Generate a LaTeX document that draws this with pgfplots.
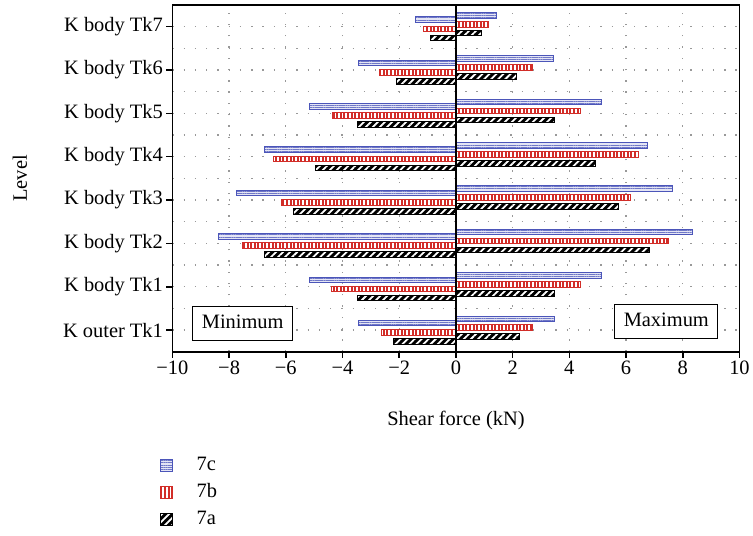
\documentclass[border=0pt]{standalone}
\usepackage{fontspec}
\setmainfont{Liberation Serif}
\usepackage{pgfplots}
\pgfplotsset{compat=1.18}
\usetikzlibrary{patterns.meta}
\definecolor{c7c}{RGB}{75,85,185}
\definecolor{c7b}{RGB}{210,45,40}
\begin{document}
\begin{tikzpicture}[font=\fontsize{20.5}{24}\selectfont]
\begin{axis}[
  scale only axis, width=569pt, height=348pt,
  xbar, bar width=0.13,
  legend image code/.code={\draw[#1] (0pt,-6pt) rectangle (12pt,6pt);},
  xmin=-10, xmax=10, ymin=-0.5, ymax=7.5,
  xtick={-10,-8,...,10},
  xticklabels={−10,−8,−6,−4,−2,0,2,4,6,8,10},
  ytick={0,1,2,3,4,5,6,7},
  yticklabels={K outer Tk1,K body Tk1,K body Tk2,K body Tk3,K body Tk4,K body Tk5,K body Tk6,K body Tk7},
  minor ytick={-0.5,0.5,1.5,2.5,3.5,4.5,5.5,6.5,7.5},
  tick align=outside, xtick pos=bottom, ytick pos=left,
  major tick length=6pt, minor tick length=0pt,
  every tick/.style={black, line width=1.5pt},
  axis line style={line width=1.5pt},
  xmajorgrids, ymajorgrids, yminorgrids,
  grid style={gray!80, line width=1.3pt, dash pattern=on 1.3pt off 10pt},
  xlabel={Shear force (kN)},
  ylabel={Level},
  xlabel style={at={(axis description cs:0.5,-0.198)}, anchor=center},
  ylabel style={at={(axis description cs:-0.269,0.5)}, anchor=center},
  legend style={at={(axis description cs:-0.028,-0.293)}, anchor=north west,
    draw=none, fill=none, row sep=7pt,
    nodes={inner sep=1pt, text height=14pt, text depth=4pt},
    /tikz/every odd column/.append style={column sep=23pt}},
  legend cell align=left,
]
% positive (maximum)
\addplot[draw=c7c, line width=1pt, preaction={fill=c7c!15}, pattern={Lines[angle=0,distance=2.2pt,line width=0.7pt]}, pattern color=c7c!80, bar shift=0.26]
 coordinates {(3.46,0) (5.15,1) (8.36,2) (7.64,3) (6.76,4) (5.15,5) (3.43,6) (1.43,7)};
\addlegendentry{7c}
\addplot[draw=c7b, line width=1pt, preaction={fill=white}, pattern={Lines[angle=90,distance=3.6pt,line width=2pt]}, pattern color=c7b, bar shift=0.055]
 coordinates {(2.70,0) (4.39,1) (7.50,2) (6.15,3) (6.43,4) (4.38,5) (2.69,6) (1.16,7)};
\addlegendentry{7b}
\addplot[draw=black, line width=1pt, preaction={fill=black}, pattern={Lines[angle=45,distance=5pt,line width=1.8pt]}, pattern color=white, bar shift=-0.15]
 coordinates {(2.25,0) (3.47,1) (6.81,2) (5.74,3) (4.93,4) (3.47,5) (2.12,6) (0.91,7)};
\addlegendentry{7a}
% negative (minimum)
\addplot[forget plot, draw=c7c, line width=1pt, preaction={fill=c7c!15}, pattern={Lines[angle=0,distance=2.2pt,line width=0.7pt]}, pattern color=c7c!80, bar shift=0.16]
 coordinates {(-3.43,0) (-5.15,1) (-8.38,2) (-7.73,3) (-6.76,4) (-5.15,5) (-3.42,6) (-1.44,7)};
\addplot[forget plot, draw=c7b, line width=1pt, preaction={fill=white}, pattern={Lines[angle=90,distance=3.6pt,line width=2pt]}, pattern color=c7b, bar shift=-0.055]
 coordinates {(-2.61,0) (-4.38,1) (-7.52,2) (-6.16,3) (-6.45,4) (-4.37,5) (-2.68,6) (-1.14,7)};
\addplot[forget plot, draw=black, line width=1pt, preaction={fill=black}, pattern={Lines[angle=45,distance=5pt,line width=1.8pt]}, pattern color=white, bar shift=-0.26]
 coordinates {(-2.21,0) (-3.47,1) (-6.76,2) (-5.72,3) (-4.94,4) (-3.46,5) (-2.11,6) (-0.88,7)};
\draw[line width=1.8pt] (axis cs:0,-0.5) -- (axis cs:0,7.5);
\node[draw, line width=1pt, fill=white, inner xsep=9pt, inner ysep=8pt, text height=14pt, text depth=4pt] at (axis cs:-7.52,0.144) {Minimum};
\node[draw, line width=1pt, fill=white, inner xsep=9pt, inner ysep=8pt, text height=14pt, text depth=4pt] at (axis cs:7.42,0.201) {Maximum};
\end{axis}
\path (current axis.south west) ++(-173pt,-184pt) rectangle ++(753pt,537pt);
\end{tikzpicture}
\end{document}
